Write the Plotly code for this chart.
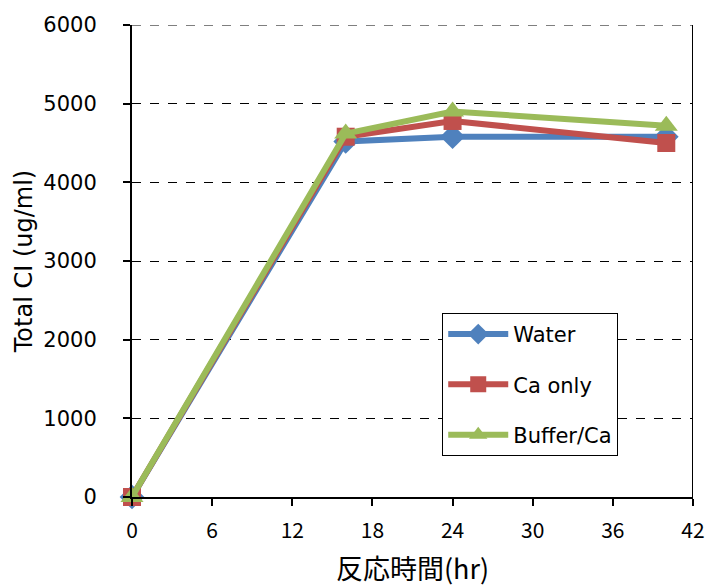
import plotly.graph_objects as go

# Reaction time (hr) and total Cl concentration (ug/ml) per condition
hours = [0, 16, 24, 40]
water = [0, 4520, 4580, 4580]
ca_only = [0, 4580, 4780, 4500]
buffer_ca = [0, 4620, 4900, 4720]

x_ticks = [0, 6, 12, 18, 24, 30, 36, 42]
y_ticks = [0, 1000, 2000, 3000, 4000, 5000, 6000]

series = [
    ("Water", water, "#4F81BD", "diamond", 19),
    ("Ca only", ca_only, "#C0504D", "square", 18),
    ("Buffer/Ca", buffer_ca, "#9BBB59", "triangle-up", 20),
]

fig = go.Figure()
for i, (name, vals, color, symbol, size) in enumerate(series):
    fig.add_trace(go.Scatter(
        x=hours, y=vals, name=name, mode="lines+markers",
        line=dict(color=color, width=6),
        marker=dict(symbol=symbol, size=size, color=color,
                    line=dict(width=0)),
        cliponaxis=False, legendgroup=f"g{i}",
    ))

text_font = "DejaVu Sans, sans-serif"
jp_font = "Noto Sans CJK JP, sans-serif"

fig.update_layout(
    width=710, height=587,
    margin=dict(l=132, r=17, t=25, b=90),
    plot_bgcolor="white", paper_bgcolor="white",
    showlegend=True,
    legend=dict(
        x=0.553, y=0.39, xanchor="left", yanchor="top",
        bgcolor="white", bordercolor="black", borderwidth=1,
        font=dict(family=text_font, size=21, color="black"),
        traceorder="grouped", tracegroupgap=20,
        itemwidth=60,
    ),
    xaxis=dict(
        range=[0, 42], tickvals=x_ticks, ticktext=[str(v) for v in x_ticks],
        showline=True, linecolor="black", linewidth=2,
        ticks="outside", ticklen=7, tickwidth=2, tickcolor="black",
        showgrid=False, zeroline=False, automargin=False,
        tickfont=dict(family=jp_font, size=21, color="black"),
        ticklabelstandoff=7,
        title=dict(text="反応時間(hr)", standoff=20,
                   font=dict(family=jp_font, size=27, color="black")),
    ),
    yaxis=dict(
        range=[0, 6000], tickvals=y_ticks, ticktext=[str(v) for v in y_ticks],
        showline=True, linecolor="black", linewidth=2,
        ticks="outside", ticklen=7, tickwidth=2, tickcolor="black",
        showgrid=True, gridcolor="black", gridwidth=1, griddash="dash",
        zeroline=False, automargin=False,
        tickfont=dict(family=text_font, size=21, color="black"),
        ticklabelstandoff=22,
        title=dict(text="Total CI (ug/ml)", standoff=4,
                   font=dict(family=text_font, size=24, color="black")),
    ),
)

# Right border of the plot area, extending down like a tick at x=42
fig.add_shape(type="line", xref="x", yref="paper", x0=42, x1=42, y0=-0.016, y1=1,
              line=dict(color="black", width=2), layer="above")
# Dashed line along the top at 6000
fig.add_shape(type="line", xref="paper", yref="y", x0=0, x1=1, y0=6000, y1=6000,
              line=dict(color="black", width=1, dash="dash"), layer="below")

fig.write_html("out.html")
